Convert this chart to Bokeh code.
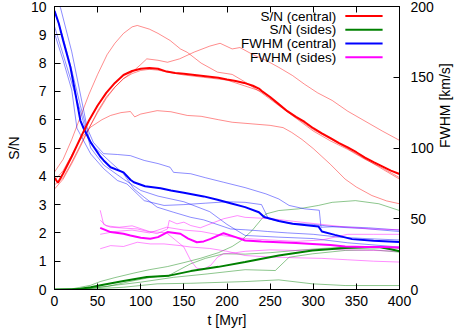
import math
import numpy as np
from bokeh.plotting import figure
from bokeh.models import Range1d, LinearAxis
from bokeh.embed import file_html
from bokeh.resources import INLINE
from bokeh.core.properties import value

# ---------------- data ----------------
x_ticks = [0, 50, 100, 150, 200, 250, 300, 350, 400]
y_ticks = [0, 1, 2, 3, 4, 5, 6, 7, 8, 9, 10]
y2_ticks = [0, 50, 100, 150, 200]

x_title = "t [Myr]"
y_title = "S/N"
y2_title = "FWHM [km/s]"
legend_labels = ["S/N (central)", "S/N (sides)", "FWHM (central)", "FWHM (sides)"]

# S/N central (thick red)
t_snc = [0, 4, 10, 20, 30, 40, 50, 60, 70, 80, 90, 100, 110, 120, 130, 140, 150, 170, 190, 200,
         210, 220, 230, 237, 240, 250, 260, 270, 280, 290, 300, 310, 320, 330, 340, 350, 360, 370,
         380, 390, 400]
snc = [3.95, 3.77, 4.1, 4.7, 5.35, 5.97, 6.5, 6.95, 7.3, 7.58, 7.72, 7.8, 7.83, 7.8, 7.7, 7.65,
       7.62, 7.55, 7.48, 7.42, 7.37, 7.3, 7.2, 7.1, 7.02, 6.8, 6.55, 6.3, 6.1, 5.92, 5.7, 5.52,
       5.35, 5.17, 5.02, 4.85, 4.66, 4.5, 4.35, 4.2, 4.08]

# S/N central, individual (thin red)
t_snc_a = [0, 10, 20, 30, 40, 50, 61, 70, 80, 90, 96, 110, 120, 134, 146, 154, 170, 189, 206,
           220, 240, 260, 280, 300, 320, 340, 360, 380, 400]
snc_a = [4.15, 4.6, 5.3, 6.1, 6.9, 7.6, 8.3, 8.7, 9.05, 9.28, 9.33, 9.2, 9.05, 8.8, 8.5, 8.38,
         8.0, 7.68, 7.6, 7.35, 6.95, 6.5, 6.05, 5.6, 5.25, 4.95, 4.6, 4.3, 3.95]
t_snc_b = [0, 10, 20, 30, 40, 50, 60, 70, 80, 90, 100, 107, 120, 131, 145, 162, 180, 192, 206,
           215, 230, 245, 260, 276, 290, 305, 322, 340, 360, 380, 400]
snc_b = [3.55, 3.9, 4.45, 5.05, 5.7, 6.3, 6.8, 7.15, 7.45, 7.68, 7.95, 8.15, 8.1, 8.03, 8.15,
         8.39, 8.6, 8.7, 8.5, 8.55, 8.3, 8.1, 7.85, 7.56, 7.25, 6.95, 6.68, 6.3, 5.95, 5.6, 5.27]
t_snc_c = [0, 10, 20, 30, 40, 50, 60, 70, 80, 90, 100, 110, 120, 150, 200, 240, 270, 300, 330,
           350, 375, 400]
snc_c = [3.7, 3.95, 4.5, 5.1, 5.7, 6.25, 6.75, 7.15, 7.45, 7.63, 7.74, 7.78, 7.75, 7.58, 7.4,
         7.0, 6.3, 5.65, 5.15, 4.8, 4.35, 3.9]
t_snc_d = [0, 10, 20, 30, 42, 55, 65, 77, 88, 93, 100, 119, 135, 154, 170, 190, 206, 230, 250,
           265, 275, 287, 300, 310, 320, 337, 350, 368, 385, 400]
snc_d = [3.85, 4.2, 4.75, 5.3, 5.74, 6.0, 6.15, 6.25, 6.29, 6.1, 6.2, 6.32, 6.28, 6.15, 6.12,
         6.0, 5.91, 5.85, 5.8, 5.72, 5.55, 5.3, 4.98, 4.7, 4.42, 3.9, 3.62, 3.32, 3.13, 3.03]

# S/N sides (thick green)
t_sns = [0, 20, 30, 42, 55, 80, 107, 133, 158, 190, 221, 260, 299, 337, 376, 390, 400]
sns = [0.0, 0.0, 0.03, 0.08, 0.16, 0.3, 0.44, 0.49, 0.65, 0.8, 0.97, 1.2, 1.38, 1.47, 1.5,
       1.42, 1.35]

# S/N sides, individual (thin green)
t_sns_a = [0, 20, 42, 53, 70, 92, 110, 131, 150, 169, 190, 206, 216, 229, 245, 260, 283, 306,
           322, 349, 376, 400]
sns_a = [0.0, 0.02, 0.15, 0.28, 0.42, 0.58, 0.7, 0.81, 0.95, 1.1, 1.3, 1.52, 1.72, 2.08, 2.67,
         2.79, 2.85, 2.97, 3.08, 3.14, 3.03, 2.79]
t_sns_b = [0, 30, 60, 90, 110, 134, 145, 158, 175, 196, 221, 250, 280, 310, 340, 370, 400]
sns_b = [0.0, 0.02, 0.1, 0.3, 0.42, 0.52, 0.7, 0.91, 1.1, 1.26, 1.25, 1.3, 1.38, 1.45, 1.5,
         1.52, 1.45]
t_sns_c = [0, 40, 70, 100, 138, 177, 221, 256, 272, 299, 337, 370, 400]
sns_c = [0.0, 0.03, 0.15, 0.26, 0.43, 0.55, 0.7, 0.67, 1.14, 1.26, 1.38, 1.4, 1.32]
t_sns_d = [0, 50, 80, 119, 158, 221, 260, 299, 337, 400]
sns_d = [0.0, 0.03, 0.08, 0.2, 0.22, 0.28, 0.34, 0.2, 0.14, 0.14]

# FWHM central (thick blue), km/s
t_fc = [0, 5, 10, 18.5, 25, 30, 34, 42, 53, 57, 65, 80, 88, 92, 105, 123, 135, 150, 173, 189,
        204, 221, 237, 243, 260, 276, 306, 310, 325, 345, 370, 400]
fc = [197, 188, 176, 157, 136, 119.4, 113.6, 104, 94, 91.2, 86.4, 82.8, 77.6, 75.8, 73, 71.6,
      70, 68.4, 65.8, 63.4, 61, 58.2, 54.6, 51.2, 48.4, 46.4, 44.6, 41, 38.6, 35.6, 34.4, 33.6]

# FWHM central, individual (thin blue), km/s
t_fc_a = [0, 7, 20, 38, 45, 57, 73, 88, 104, 120, 134, 138, 158, 175, 196, 221, 245, 260, 272,
          290, 307, 309, 330, 364, 400]
fc_a = [206, 199, 168, 114, 104, 96, 95.4, 94.6, 91.2, 89, 86.4, 82.8, 81.8, 79, 75.8, 72,
        67.6, 64, 59.4, 57, 56, 44, 44.5, 43.6, 42]
t_fc_b = [0, 10, 20, 30, 42, 65, 80, 92, 104, 119, 138, 158, 173, 204, 221, 237, 247, 270, 300,
          330, 360, 400]
fc_b = [197, 178, 155, 130, 103, 90, 81.8, 71.2, 65.2, 58.2, 54.6, 51, 49.2, 42.8, 42.2, 41.5,
        41, 40, 39, 37, 36, 35]
t_fc_c = [0, 10, 20, 26, 42, 57, 73, 84, 104, 127, 150, 175, 200, 221, 240, 248, 270, 300, 330,
          360, 400]
fc_c = [181, 162, 141, 114, 95.8, 85.4, 77, 74.6, 62.8, 59.4, 60, 61, 62, 61.6, 60, 50, 47,
        46, 44, 43, 41]
t_fc_d = [0, 10, 20, 30, 42, 57, 80, 100, 120, 150, 180, 200, 221, 260, 300, 340, 400]
fc_d = [186, 166, 146, 126, 100, 88, 78, 70, 66, 62, 55, 46, 38.2, 37, 36, 33, 30]

# FWHM sides (thick magenta), km/s
t_fs = [53, 65, 80, 88, 100, 111, 120, 131, 146, 155, 165, 173, 181, 196, 210, 221, 240, 260,
        280, 299, 320, 337, 360, 380, 400]
fs = [43.6, 40.6, 39.4, 38.2, 36.6, 35.8, 37, 40.6, 39.4, 36, 33.4, 34, 35.8, 39.8, 37, 34.6,
      34, 33.4, 32.8, 32.2, 31.4, 30.4, 30, 30, 29.6]

# FWHM sides, individual (thin magenta), km/s
t_fs_a = [53, 57, 65, 96, 119, 131, 133, 142, 150, 158, 169, 196, 212, 221, 252, 280, 310, 340,
          368, 400]
fs_a = [56, 46, 44, 42.8, 39.4, 42.8, 48.8, 46.4, 47.6, 45.2, 43.6, 50, 52.2, 51, 50, 48, 46,
        44, 42.8, 42.2]
t_fs_b = [53, 65, 80, 96, 111, 127, 146, 158, 180, 200, 221, 250, 280, 310, 340, 370, 400]
fs_b = [28.8, 31, 30.4, 33.4, 32.2, 32.2, 31, 30, 29, 27, 24, 23, 22.4, 22, 21, 20, 19.4]
t_fs_c = [53, 60, 75, 90, 110, 130, 150, 158, 165, 173, 181, 189, 196, 210, 221, 250, 280, 310,
          340, 370, 400]
fs_c = [49, 45, 44, 45, 41, 40, 30, 20.4, 15, 14.4, 17, 22.8, 25.2, 26, 27, 28, 27.6, 28.4, 28,
        27.6, 27]
t_fs_d = [53, 70, 90, 110, 130, 150, 170, 196, 221, 250, 280, 310, 340, 370, 400]
fs_d = [39, 41, 42, 40, 44, 42, 41, 38, 36, 35, 34, 35, 39, 39, 39]

# ---------------- figure ----------------
FONT = "Liberation Sans"
X0, X1 = 0, 400
Y0, Y1 = 0, 10
Y20, Y21 = 0, 200

p = figure(width=463, height=330, x_range=Range1d(X0, X1), y_range=Range1d(Y0, Y1),
           output_backend="svg", toolbar_location=None, title=None,
           min_border_left=54, min_border_right=64, min_border_top=6, min_border_bottom=41)
p.extra_y_ranges = {"fwhm": Range1d(Y20, Y21)}
p.background_fill_color = "white"
p.border_fill_color = "white"
p.outline_line_color = "black"
p.outline_line_width = 1
p.outline_line_alpha = 1
p.grid.visible = False


def style_axis(ax, standoff):
    ax.axis_line_color = "black"
    ax.major_tick_in = 6
    ax.major_tick_out = 0
    ax.minor_tick_in = 3
    ax.minor_tick_out = 0
    ax.major_tick_line_color = "black"
    ax.minor_tick_line_color = "black"
    ax.major_label_text_font = FONT
    ax.major_label_text_font_size = "14px"
    ax.major_label_text_color = "black"
    ax.major_label_standoff = standoff
    ax.axis_label_text_font = FONT
    ax.axis_label_text_font_size = "14px"
    ax.axis_label_text_font_style = "normal"
    ax.axis_label_text_color = "black"
    ax.axis_label_text_line_height = 1.0


xa = p.xaxis[0]
xa.ticker = x_ticks
xa.ticker.num_minor_ticks = 5
xa.axis_label = x_title
style_axis(xa, 6)
xa.axis_label_standoff = 3

ya = p.yaxis[0]
ya.ticker = y_ticks
ya.ticker.num_minor_ticks = 5
ya.axis_label = y_title
style_axis(ya, 8)
ya.axis_label_standoff = 6

y2 = LinearAxis(y_range_name="fwhm", axis_label=y2_title)
y2.ticker = y2_ticks
y2.ticker.num_minor_ticks = 5
style_axis(y2, 11)
y2.axis_label_standoff = 8
y2.axis_label_orientation = math.pi / 2
p.add_layout(y2, "right")

xt = LinearAxis()
xt.ticker = x_ticks
xt.ticker.num_minor_ticks = 5
style_axis(xt, 0)
xt.major_label_text_font_size = "0px"
xt.major_label_text_color = None
p.add_layout(xt, "above")

# thin (individual) curves
RED, GREEN, BLUE, MAG = "#ff0000", "#008000", "#0000ff", "#ff00ff"
TA = 0.45
for tt, vv in [(t_snc_a, snc_a), (t_snc_b, snc_b), (t_snc_c, snc_c), (t_snc_d, snc_d)]:
    p.line(tt, vv, color=RED, line_width=1, line_alpha=TA)
for tt, vv in [(t_sns_a, sns_a), (t_sns_b, sns_b), (t_sns_c, sns_c), (t_sns_d, sns_d)]:
    p.line(tt, vv, color=GREEN, line_width=1, line_alpha=TA)
for tt, vv in [(t_fc_a, fc_a), (t_fc_b, fc_b), (t_fc_c, fc_c), (t_fc_d, fc_d)]:
    p.line(tt, vv, color=BLUE, line_width=1, line_alpha=TA, y_range_name="fwhm")
for tt, vv in [(t_fs_a, fs_a), (t_fs_b, fs_b), (t_fs_c, fs_c), (t_fs_d, fs_d)]:
    p.line(tt, vv, color=MAG, line_width=1, line_alpha=TA, y_range_name="fwhm")

# thick (mean) curves
p.line(t_sns, sns, color=GREEN, line_width=2)
p.line(t_fs, fs, color=MAG, line_width=2, y_range_name="fwhm")
p.line(t_fc, fc, color=BLUE, line_width=2, y_range_name="fwhm")
p.line(t_snc, snc, color=RED, line_width=2)

# legend (text left of the sample line), placed as fractions of the frame
xr = X1 - X0
yr = Y1 - Y0
colors = [RED, GREEN, BLUE, MAG]
n = len(legend_labels)
leg_text_x = [X0 + 0.817 * xr] * n
leg_y = [Y0 + (0.966 - 0.0485 * i) * yr for i in range(n)]
p.text(x=leg_text_x, y=leg_y, text=legend_labels, text_align="right", text_baseline="middle",
       text_font=value(FONT), text_font_size="13.5px", text_color="black")
p.segment(x0=[X0 + 0.843 * xr] * n, y0=leg_y, x1=[X0 + 0.951 * xr] * n, y1=leg_y,
          color=colors, line_width=2)

open("out.html", "w").write(file_html(p, INLINE))
